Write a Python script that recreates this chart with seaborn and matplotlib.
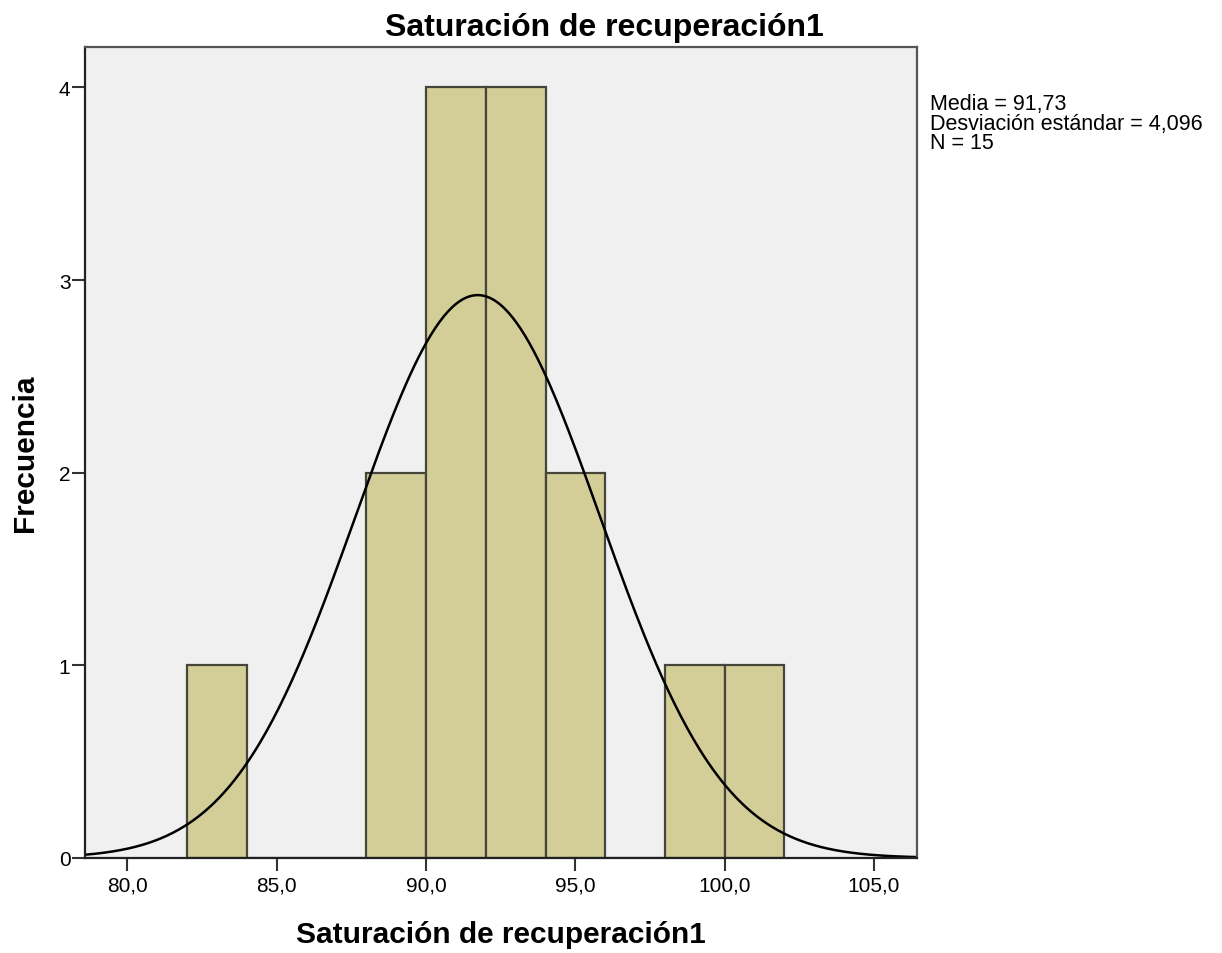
import numpy as np
import pandas as pd
import seaborn as sns
import matplotlib
matplotlib.use('Agg')
import matplotlib.pyplot as plt

bin_centers = [83, 89, 91, 93, 95, 99, 101]
counts = [1, 2, 4, 4, 2, 1, 1]
media = 91.73
desv = 4.096
n = 15
ancho = 2

x_ticks = [80, 85, 90, 95, 100, 105]
x_labels = ['80,0', '85,0', '90,0', '95,0', '100,0', '105,0']
y_ticks = [0, 1, 2, 3, 4]

titulo = 'Saturación de recuperación1'

sns.set_style('white')
plt.rcParams['font.family'] = ['Liberation Sans', 'DejaVu Sans']
plt.rcParams['text.color'] = 'black'
plt.rcParams['axes.labelcolor'] = 'black'
plt.rcParams['xtick.color'] = 'black'
plt.rcParams['ytick.color'] = 'black'

df = pd.DataFrame({'valor': bin_centers, 'frec': counts})

fig = plt.figure(figsize=(12.22, 9.54), dpi=100)
ax = fig.add_axes([0.0696, 0.0996, 0.6808, 0.8501])
ax.set_facecolor('#f0f0f0')

sns.histplot(data=df, x='valor', weights='frec', binwidth=ancho, binrange=(82, 102),
             color='#d3ce97', edgecolor='#45453a', linewidth=1.6, alpha=1, ax=ax)

# curva normal
xmin, xmax = 78.58, 106.44
xs = np.linspace(xmin, xmax, 400)
ys = n * ancho * np.exp(-0.5 * ((xs - media) / desv) ** 2) / (desv * np.sqrt(2 * np.pi))
sns.lineplot(x=xs, y=ys, color='black', linewidth=1.8, ax=ax)

ax.set_xlim(xmin, xmax)
ax.set_ylim(0, 4.21)
ax.set_xticks(x_ticks)
ax.set_xticklabels(x_labels)
ax.set_yticks(y_ticks)
ax.tick_params(axis='both', bottom=True, left=True, labelsize=15, length=9.5, width=1.5,
               color='#333333', direction='out')
ax.tick_params(axis='x', pad=3)
ax.tick_params(axis='y', pad=1)

for s in ['left', 'bottom']:
    ax.spines[s].set_color('#222222')
    ax.spines[s].set_linewidth(1.6)
for s in ['top', 'right']:
    ax.spines[s].set_color('#555555')
    ax.spines[s].set_linewidth(1.6)

ax.set_xlabel(titulo, fontsize=21.5, fontweight='bold')
ax.xaxis.set_label_coords(0.5, -0.1036)
ax.xaxis.label.set_va('baseline')
ax.set_ylabel('Frecuencia', fontsize=21.5, fontweight='bold')
ax.yaxis.set_label_coords(-0.0721, 0.5)
ax.yaxis.label.set_va('center')

fig.text(0.4943, 0.9623, titulo, ha='center', va='baseline', fontsize=23, fontweight='bold')

fig.text(0.761, 0.9015, f'Media = 91,73\nDesviación estándar = 4,096\nN = {n}',
         ha='left', va='top', fontsize=15.5, linespacing=0.92)

plt.savefig('out.png', dpi=100)
